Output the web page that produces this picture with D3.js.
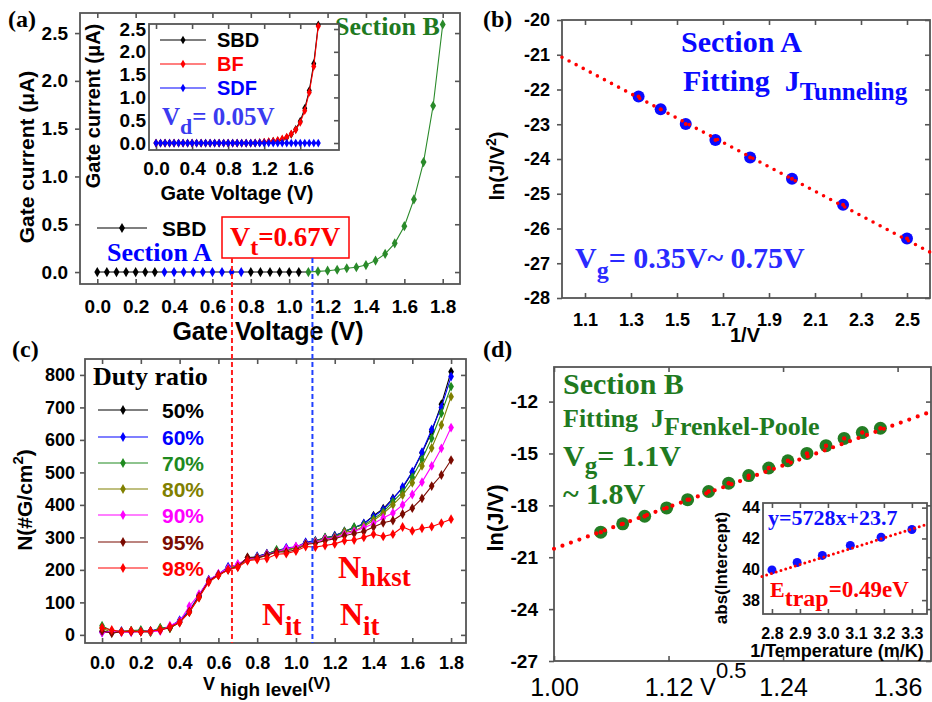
<!DOCTYPE html>
<html>
<head>
<meta charset="utf-8">
<script src="https://cdn.jsdelivr.net/npm/d3@7"></script>
<style>
  body { margin: 0; background: #fff; }
</style>
</head>
<body>
<div id="chart"></div>
<script>
// ---------- data ----------
const voltSteps = [0.00, 0.05, 0.10, 0.15, 0.20, 0.25, 0.30, 0.35, 0.40, 0.45, 0.50, 0.55, 0.60,
  0.65, 0.70, 0.75, 0.80, 0.85, 0.90, 0.95, 1.00, 1.05, 1.10, 1.15, 1.20, 1.25, 1.30, 1.35, 1.40,
  1.45, 1.50, 1.55, 1.60, 1.65, 1.70, 1.75, 1.80];

// (a) gate current, uA
const sbdCurrent = [0, 0, 0, 0, 0, 0, 0, 0, 0, 0, 0, 0, 0, 0, 0, 0, 0, 0, 0, 0, 0, 0,
  0.0, 0.007, 0.014, 0.024, 0.04, 0.05, 0.073, 0.12, 0.19, 0.30, 0.48, 0.76, 1.15, 1.74, 2.59];
const bfCurrent = [0, 0, 0, 0, 0, 0, 0, 0, 0, 0, 0, 0, 0, 0, 0, 0, 0, 0, 0, 0, 0, 0,
  0.005, 0.01, 0.02, 0.03, 0.04, 0.06, 0.09, 0.13, 0.2, 0.29, 0.45, 0.71, 1.11, 1.68, 2.56];
const sdfCurrent = [0, 0, 0, 0, 0, 0, 0, 0, 0, 0, 0, 0, 0, 0, 0, 0, 0, 0, 0, 0, 0, 0,
  0, 0, 0, 0, 0, 0, 0, 0, 0, 0, 0, 0, 0, 0, 0];
const sectionA = [0.35, 0.75];
const sectionB = [1.1, 1.8];

// (b) tunneling fit
const tunnelInvV = [1.333, 1.429, 1.538, 1.667, 1.818, 2.0, 2.222, 2.5];
const tunnelLnJV2 = [-22.20, -22.57, -22.99, -23.45, -23.96, -24.57, -25.32, -26.29];
const tunnelFit = [[1.0, -21.07], [2.6, -26.68]];

// (c) trap density vs V high level
const dutyRatios = ["50%", "60%", "70%", "80%", "90%", "95%", "98%"];
const dutyColors = ["#000000", "#0000ff", "#1e8a1e", "#808000", "#ff00ff", "#7a0a00", "#ff0000"];
const n50 = [10, 8, 10, 12, 10, 10, 18, 22, 42, 72, 120, 168, 185, 205, 212, 238, 240, 250, 258, 262,
  268, 283, 288, 298, 305, 318, 330, 342, 367, 388, 420, 452, 500, 560, 625, 710, 810];
const n60 = [8, 10, 12, 10, 12, 12, 20, 25, 45, 75, 122, 170, 185, 210, 215, 232, 242, 250, 258, 268,
  270, 285, 290, 298, 305, 318, 330, 343, 364, 385, 418, 455, 502, 562, 632, 700, 795];
const n70 = [28, 12, 10, 13, 15, 8, 22, 22, 40, 72, 118, 167, 187, 205, 214, 230, 240, 248, 262, 262,
  270, 280, 288, 300, 302, 318, 332, 338, 357, 378, 410, 440, 485, 540, 605, 682, 764];
const n80 = [20, 8, 10, 12, 10, 8, 20, 20, 40, 70, 115, 165, 183, 202, 212, 230, 235, 245, 255, 258,
  268, 280, 287, 296, 300, 316, 320, 334, 352, 373, 400, 430, 468, 520, 575, 646, 733];
const n90 = [7, 10, 8, 8, 10, 10, 12, 28, 42, 88, 125, 168, 188, 205, 218, 232, 238, 248, 255, 265,
  272, 280, 285, 295, 298, 310, 318, 330, 342, 360, 375, 400, 432, 470, 520, 574, 638];
const n95 = [12, 5, 10, 10, 10, 12, 15, 22, 38, 72, 118, 165, 185, 200, 210, 238, 237, 245, 255, 255,
  262, 278, 282, 290, 296, 305, 312, 318, 332, 345, 352, 372, 390, 420, 458, 492, 538];
const n98 = [22, 15, 10, 12, 10, 12, 15, 25, 38, 70, 115, 162, 183, 200, 208, 228, 232, 235, 248, 250,
  258, 272, 270, 275, 280, 290, 292, 300, 310, 303, 310, 332, 320, 328, 333, 344, 356];
const dutySeries = [n50, n60, n70, n80, n90, n95, n98];
const vtLine = 0.67;
const sectionBStart = 1.085;

// (d) Frenkel-Poole fit
const sqrtV = [1.049, 1.072, 1.095, 1.118, 1.140, 1.162, 1.183, 1.204, 1.225, 1.245, 1.265, 1.285,
  1.304, 1.323, 1.342];
const lnJV = [-19.55, -19.07, -18.63, -18.15, -17.67, -17.20, -16.72, -16.28, -15.84, -15.42, -15.00,
  -14.55, -14.13, -13.79, -13.54];
const fpFit = [[1.0, -20.51], [1.4, -12.48]];

// (d) inset: intercept vs 1/T
const invTemp = [2.80, 2.89, 2.98, 3.08, 3.19, 3.30];
const absIntercept = [39.96, 40.44, 40.90, 41.55, 42.08, 42.58];
const interceptFit = [[2.764, 39.53], [3.36, 42.95]];

// ---------- helpers ----------
const sans = "'Liberation Sans', Arial, sans-serif";
const serif = "'Liberation Serif', 'Times New Roman', serif";
const frameColor = "#555";

const svg = d3
  .select("#chart")
  .append("svg")
  .attr("width", 932)
  .attr("height", 702)
  .style("background", "#fff");

// parts: [text, fontSize, baseline offset, extra dx]
function richText(g, x, y, parts, color, family = serif, size = 20) {
  const t = g
    .append("text")
    .attr("x", x)
    .attr("y", y)
    .attr("fill", color)
    .attr("font-family", family)
    .attr("font-weight", "bold")
    .attr("font-size", size)
    .style("white-space", "pre");
  let shift = 0;
  parts.forEach(([str, fs, off = 0, dx = 0]) => {
    t.append("tspan").attr("dx", dx).attr("dy", off - shift).attr("font-size", fs).text(str);
    shift = off;
  });
  return t;
}

function yTitle(g, x, y, parts, size) {
  return richText(g, 0, 0, parts, "#000", sans, size)
    .attr("text-anchor", "middle")
    .attr("transform", `translate(${x},${y}) rotate(-90)`);
}

function frame(g, x, y, o) {
  const [xl, xr] = x.range();
  const [yb, yt] = y.range();
  g.append("rect")
    .attr("x", xl)
    .attr("y", yt)
    .attr("width", xr - xl)
    .attr("height", yb - yt)
    .attr("fill", o.fill || "none");

  const left = g
    .append("g")
    .attr("transform", `translate(${xl},0)`)
    .call(
      d3.axisLeft(y).tickValues(o.yTicks).tickFormat(o.yFormat)
        .tickSizeInner(o.leftTick).tickSizeOuter(0).tickPadding(o.yPad)
    );
  const bottom = g
    .append("g")
    .attr("transform", `translate(0,${yb})`)
    .call(
      d3.axisBottom(x).tickValues(o.xTicks).tickFormat(o.xFormat)
        .tickSizeInner(-5).tickSizeOuter(0).tickPadding(o.xPad)
    );
  g.append("g")
    .attr("transform", `translate(0,${yt})`)
    .call(d3.axisTop(x).tickValues(o.xTicks).tickFormat(() => "").tickSizeInner(-5).tickSizeOuter(0));
  g.append("g")
    .attr("transform", `translate(${xr},0)`)
    .call(d3.axisRight(y).tickValues(o.yTicks).tickFormat(() => "").tickSizeInner(-5).tickSizeOuter(0));

  g.selectAll(".domain").remove();
  g.selectAll(".tick line").attr("stroke", frameColor).attr("stroke-width", 1.6);
  [left, bottom].forEach((a) =>
    a.attr("font-family", sans).attr("font-weight", "bold").attr("font-size", o.tickSize)
  );
  if (o.xWeight) bottom.attr("font-weight", o.xWeight).attr("font-size", o.xTickSize);

  g.append("rect")
    .attr("x", xl)
    .attr("y", yt)
    .attr("width", xr - xl)
    .attr("height", yb - yt)
    .attr("fill", "none")
    .attr("stroke", frameColor)
    .attr("stroke-width", 1.8);
}

function series(g, x, y, xs, ys, color, size, colorOf) {
  const pts = xs.map((v, i) => [v, ys[i]]);
  g.append("path")
    .datum(pts)
    .attr("fill", "none")
    .attr("stroke", color)
    .attr("stroke-width", 1.1)
    .attr("d", d3.line().x((d) => x(d[0])).y((d) => y(d[1])));
  g.selectAll(null)
    .data(pts)
    .join("path")
    .attr("transform", (d) => `translate(${x(d[0])},${y(d[1])})`)
    .attr("d", d3.symbol().type(d3.symbolDiamond).size(size))
    .attr("fill", (d) => (colorOf ? colorOf(d[0]) : color));
}

function dottedFit(g, x, y, pts, width, gap) {
  g.append("path")
    .datum(pts)
    .attr("fill", "none")
    .attr("stroke", "#ff0000")
    .attr("stroke-width", width)
    .attr("stroke-linecap", "round")
    .attr("stroke-dasharray", `0,${gap}`)
    .attr("d", d3.line().x((d) => x(d[0])).y((d) => y(d[1])));
}

function legendRow(g, x0, x1, yRow, color, size, label, textX, fs) {
  g.append("line").attr("x1", x0).attr("x2", x1).attr("y1", yRow).attr("y2", yRow)
    .attr("stroke", color).attr("stroke-width", 1.1);
  g.append("path")
    .attr("transform", `translate(${(x0 + x1) / 2},${yRow})`)
    .attr("d", d3.symbol().type(d3.symbolDiamond).size(size))
    .attr("fill", color);
  g.append("text").attr("x", textX).attr("y", yRow + fs * 0.36).attr("fill", color)
    .attr("font-family", sans).attr("font-weight", "bold").attr("font-size", fs).text(label);
}

// ---------- panel (a) ----------
const gA = svg.append("g");
const xA = d3.scaleLinear().domain([-0.09, 1.89]).range([80, 460]);
const yA = d3.scaleLinear().domain([-0.125, 2.71]).range([284, 13]);
frame(gA, xA, yA, {
  xTicks: [0, 0.2, 0.4, 0.6, 0.8, 1.0, 1.2, 1.4, 1.6, 1.8], xFormat: d3.format(".1f"),
  yTicks: [0, 0.5, 1.0, 1.5, 2.0, 2.5], yFormat: d3.format(".1f"),
  leftTick: 5, yPad: 7, xPad: 16, tickSize: 19,
});

const sectionColor = (v) =>
  v >= sectionB[0] - 1e-6 ? "#2a8a2a" : v >= sectionA[0] - 1e-6 && v <= sectionA[1] + 1e-6 ? "#0000ff" : "#000";
const idxB = voltSteps.indexOf(sectionB[0]);
gA.append("path")
  .datum(voltSteps.slice(0, idxB + 1).map((v, i) => [v, sbdCurrent[i]]))
  .attr("fill", "none").attr("stroke", "#000").attr("stroke-width", 1.1)
  .attr("d", d3.line().x((d) => xA(d[0])).y((d) => yA(d[1])));
series(gA, xA, yA, voltSteps.slice(idxB), sbdCurrent.slice(idxB), "#2a8a2a", 30);
gA.selectAll(null)
  .data(voltSteps.slice(0, idxB).map((v, i) => [v, sbdCurrent[i]]))
  .join("path")
  .attr("transform", (d) => `translate(${xA(d[0])},${yA(d[1])})`)
  .attr("d", d3.symbol().type(d3.symbolDiamond).size(30))
  .attr("fill", (d) => sectionColor(d[0]));

legendRow(gA, 97, 147, 228, "#000", 30, "SBD", 162, 21);
richText(gA, 107, 261, [["Section A", 26]], "#0000ff");
richText(gA, 335, 35, [["Section B", 26]], "#1f7a1f");
gA.append("rect").attr("x", 222).attr("y", 217).attr("width", 127).attr("height", 41)
  .attr("fill", "#fff").attr("stroke", "#ff0000").attr("stroke-width", 1.5);
richText(gA, 230, 246, [["V", 28], ["t", 24, 9], ["=0.67V", 27, 0]], "#ff0000");

yTitle(gA, 34, 157, [["Gate current (μA)", 21]], 21);
gA.append("text").attr("x", 268).attr("y", 340).attr("text-anchor", "middle")
  .attr("font-family", sans).attr("font-weight", "bold").attr("font-size", 25)
  .text("Gate Voltage (V)");
richText(gA, 8, 27, [["(a)", 24]], "#000");

// inset (a)
const gAi = svg.append("g");
const xAi = d3.scaleLinear().domain([-0.078, 2.03]).range([149, 339]);
const yAi = d3.scaleLinear().domain([-0.153, 2.61]).range([150, 24]);
frame(gAi, xAi, yAi, {
  xTicks: [0, 0.4, 0.8, 1.2, 1.6], xFormat: d3.format(".1f"),
  yTicks: [0, 0.5, 1.0, 1.5, 2.0, 2.5], yFormat: d3.format(".1f"),
  leftTick: 0, yPad: 3, xPad: 12, tickSize: 19, fill: "#fff",
});
series(gAi, xAi, yAi, voltSteps, sbdCurrent, "#000", 22);
series(gAi, xAi, yAi, voltSteps, bfCurrent, "#ff0000", 22);
series(gAi, xAi, yAi, voltSteps, sdfCurrent, "#0000ff", 22);
legendRow(gAi, 160, 206, 40, "#000", 22, "SBD", 217, 20);
legendRow(gAi, 160, 206, 64, "#ff0000", 22, "BF", 217, 20);
legendRow(gAi, 160, 206, 88, "#0000ff", 22, "SDF", 217, 20);
richText(gAi, 162, 125, [["V", 25], ["d", 22, 9], ["= 0.05V", 25, 0]], "#3b3bf0");
yTitle(gAi, 100, 106, [["Gate current (μA)", 20]], 20);
gAi.append("text").attr("x", 237).attr("y", 200).attr("text-anchor", "middle")
  .attr("font-family", sans).attr("font-weight", "bold").attr("font-size", 20)
  .text("Gate Voltage (V)");

// ---------- panel (b) ----------
const gB = svg.append("g");
const xB = d3.scaleLinear().domain([1.0, 2.6]).range([562, 930]);
const yB = d3.scaleLinear().domain([-28, -20]).range([298, 20]);
frame(gB, xB, yB, {
  xTicks: [1.1, 1.3, 1.5, 1.7, 1.9, 2.1, 2.3, 2.5], xFormat: d3.format(".1f"),
  yTicks: [-28, -27, -26, -25, -24, -23, -22, -21, -20], yFormat: (d) => String(d),
  leftTick: 5, yPad: 7, xPad: 15, tickSize: 18,
});
gB.selectAll(null)
  .data(tunnelInvV.map((v, i) => [v, tunnelLnJV2[i]]))
  .join("circle")
  .attr("cx", (d) => xB(d[0])).attr("cy", (d) => yB(d[1])).attr("r", 6)
  .attr("fill", "#0a0aff");
dottedFit(gB, xB, yB, tunnelFit, 3.6, 8);
gB.selectAll(null)
  .data(tunnelInvV.map((v, i) => [v, tunnelLnJV2[i]]))
  .join("circle")
  .attr("cx", (d) => xB(d[0])).attr("cy", (d) => yB(d[1])).attr("r", 2)
  .attr("fill", "#ff0000");
richText(gB, 681, 52, [["Section A", 30]], "#0a0aff");
richText(gB, 683, 91, [["Fitting  J", 30], ["Tunneling", 25, 9]], "#0a0aff");
richText(gB, 575, 268, [["V", 30], ["g", 24, 10], ["= 0.35V~ 0.75V", 30, 0]], "#2a2aff");
yTitle(gB, 504, 166, [["ln(J/V", 20], ["2", 14, -8], [")", 20, 0]], 20);
gB.append("text").attr("x", 745).attr("y", 342).attr("text-anchor", "middle")
  .attr("font-family", sans).attr("font-weight", "bold").attr("font-size", 20).text("1/V");
richText(gB, 483, 27, [["(b)", 24]], "#000");

// ---------- panel (c) ----------
const gC = svg.append("g");
const xC = d3.scaleLinear().domain([-0.088, 1.877]).range([85, 466]);
const yC = d3.scaleLinear().domain([-25, 849]).range([643, 359]);
frame(gC, xC, yC, {
  xTicks: [0, 0.2, 0.4, 0.6, 0.8, 1.0, 1.2, 1.4, 1.6, 1.8], xFormat: d3.format(".1f"),
  yTicks: [0, 100, 200, 300, 400, 500, 600, 700, 800], yFormat: d3.format("d"),
  leftTick: 5, yPad: 5, xPad: 13, tickSize: 18,
});
dutySeries.forEach((s, i) => series(gC, xC, yC, voltSteps, s, dutyColors[i], 28));
richText(gC, 93, 385, [["Duty ratio", 26]], "#000");
const legendY = [410, 437, 463, 489, 515, 542, 568];
dutyRatios.forEach((r, i) => legendRow(gC, 98, 148, legendY[i], dutyColors[i], 28, r, 162, 21));
richText(gC, 338, 578, [["N", 32], ["hkst", 27, 8]], "#ff0000");
richText(gC, 262, 625, [["N", 32], ["it", 27, 10]], "#ff0000");
richText(gC, 340, 625, [["N", 32], ["it", 27, 10]], "#ff0000");
yTitle(gC, 32, 500, [["N(#G/cm", 21], ["2", 15, -9], [")", 21, 0]], 21);
richText(gC, 203, 690, [["V", 18], ["high level", 19, 6, 5], ["(V)", 17, -1]], "#000", sans);
richText(gC, 12, 357, [["(c)", 24]], "#000");

// dashed markers across (a) and (c)
[[vtLine, "#ff2020"], [sectionBStart, "#2040ff"]].forEach(([v, c]) => {
  svg.append("line")
    .attr("x1", xC(v)).attr("x2", xC(v)).attr("y1", 258).attr("y2", 643)
    .attr("stroke", c).attr("stroke-width", 2).attr("stroke-dasharray", "5,3");
});

// ---------- panel (d) ----------
const gD = svg.append("g");
const xD = d3.scaleLinear().domain([1.0, 1.395]).range([554, 931]);
const yD = d3.scaleLinear().domain([-27, -10]).range([661, 367]);
frame(gD, xD, yD, {
  xTicks: [1.0, 1.12, 1.24, 1.36], xFormat: d3.format(".2f"),
  yTicks: [-27, -24, -21, -18, -15, -12], yFormat: (d) => String(d),
  leftTick: 5, yPad: 11, xPad: 17, tickSize: 19, xWeight: "normal", xTickSize: 25,
});
gD.selectAll(null)
  .data(sqrtV.map((v, i) => [v, lnJV[i]]))
  .join("circle")
  .attr("cx", (d) => xD(d[0])).attr("cy", (d) => yD(d[1])).attr("r", 6.5)
  .attr("fill", "#237d23");
dottedFit(gD, xD, yD, fpFit, 4.2, 9);
gD.selectAll(null)
  .data(sqrtV.map((v, i) => [v, lnJV[i]]))
  .join("circle")
  .attr("cx", (d) => xD(d[0])).attr("cy", (d) => yD(d[1])).attr("r", 2.2)
  .attr("fill", "#ff0000");
richText(gD, 563, 394, [["Section B", 30]], "#1f7a1f");
richText(gD, 563, 427, [["Fitting  J", 26], ["Frenkel-Poole", 26, 8]], "#1f7a1f");
richText(gD, 563, 466, [["V", 30], ["g", 25, 8], ["= 1.1V", 30, 0]], "#1f7a1f");
richText(gD, 563, 504, [["~ 1.8V", 30]], "#1f7a1f");
yTitle(gD, 503, 518, [["ln(J/V)", 22]], 22);
richText(gD, 700, 695, [["V", 24], ["0.5", 22, -17]], "#000", sans).attr("font-weight", "normal");
richText(gD, 483, 357, [["(d)", 24]], "#000");

// inset (d)
const gDi = svg.append("g");
const xDi = d3.scaleLinear().domain([2.768, 3.354]).range([763, 927]);
const yDi = d3.scaleLinear().domain([37.1, 44.3]).range([614, 503]);
frame(gDi, xDi, yDi, {
  xTicks: [2.8, 2.9, 3.0, 3.1, 3.2, 3.3], xFormat: d3.format(".1f"),
  yTicks: [38, 40, 42, 44], yFormat: d3.format("d"),
  leftTick: 0, yPad: 3, xPad: 14, tickSize: 16, fill: "#fff",
});
gDi.selectAll(null)
  .data(invTemp.map((v, i) => [v, absIntercept[i]]))
  .join("circle")
  .attr("cx", (d) => xDi(d[0])).attr("cy", (d) => yDi(d[1])).attr("r", 4.5)
  .attr("fill", "#1010ff");
dottedFit(gDi, xDi, yDi, interceptFit, 3, 5);
richText(gDi, 768, 525, [["y=5728x+23.7", 22]], "#1010ff");
richText(gDi, 770, 597, [["E", 22], ["trap", 24, 9], ["=0.49eV", 23, 0]], "#ff0000");
yTitle(gDi, 727, 568, [["abs(Intercept)", 17]], 17);
gDi.append("text").attr("x", 837).attr("y", 657).attr("text-anchor", "middle")
  .attr("font-family", sans).attr("font-weight", "bold").attr("font-size", 18)
  .text("1/Temperature (m/K)");
</script>
</body>
</html>
